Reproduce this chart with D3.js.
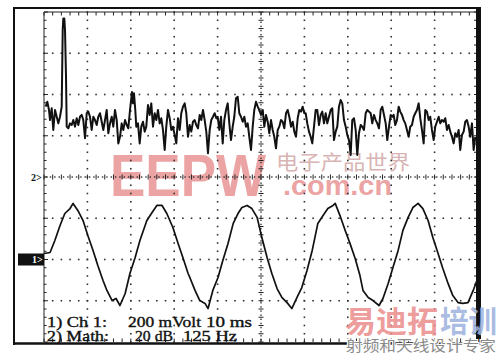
<!DOCTYPE html>
<html>
<head>
<meta charset="utf-8">
<script src="https://cdn.jsdelivr.net/npm/d3@7"></script>
<style>
body { margin: 0; background: #fff; }
svg { display: block; }
</style>
</head>
<body>
<svg id="scope" width="500" height="354"></svg>
<script>
// channel 1 trace: time (ms), level (mV)
var ch1Trace = [
    [0.0, 29], [1.4, 34], [2.5, 92], [3.7, 165], [4.8, 223], [6.0, 247], [6.7, 272], [7.8, 238],
    [9.0, 189], [10.1, 116], [11.3, 44], [12.4, -29], [13.6, -102], [14.5, -150], [15.7, -199],
    [16.6, -189], [17.5, -223], [18.7, -165], [19.8, -68], [21.0, 10], [22.1, 92], [23.7, 189],
    [24.9, 228], [26.0, 262], [27.2, 262], [28.3, 223], [29.7, 155], [30.9, 78], [32.0, 10],
    [33.2, -68], [33.6, -87], [34.8, -150], [35.9, -199], [37.1, -213], [37.8, -238], [38.9, -150],
    [40.1, -87], [41.2, -5], [42.4, 78], [43.6, 175], [44.7, 223], [45.6, 252], [46.8, 262],
    [47.9, 247], [49.1, 204], [50.2, 107], [51.4, 10], [52.5, -68], [53.7, -141], [54.8, -184],
    [56.0, -209], [57.1, -238], [58.3, -184], [59.4, -136], [60.6, -53], [61.8, 44], [63.1, 175],
    [64.3, 213], [65.4, 247], [66.6, 262], [67.1, 272], [68.2, 213], [69.4, 141], [70.5, 78],
    [71.7, 5], [72.8, -78], [73.5, -150], [74.7, -184], [75.8, -199], [77.2, -223], [78.1, -189],
    [79.3, -116], [80.4, -39], [81.6, 44], [82.7, 141], [83.9, 204], [85.0, 252], [86.2, 272],
    [87.3, 247], [88.5, 189], [89.6, 107], [90.8, 29], [91.9, -44], [93.1, -116], [94.2, -175],
    [95.4, -209], [96.5, -213], [97.7, -209], [98.9, -150], [100.0, -87]
];

// math trace (FFT): frequency (Hz), level (dB)
var mathTrace = [
    [4.9, 34.1], [9.5, 36.5], [14.4, 32.5], [17.3, 27.6], [22.2, 33.3], [26.8, 22.8], [31.7, 32.5],
    [36.6, 29.2], [41.2, 26.0], [46.1, 29.2], [51.0, 34.1], [53.9, 71.3], [55.6, 76.9], [58.5, 76.9],
    [60.5, 71.3], [63.4, 48.6], [65.4, 24.4], [70.0, 23.6], [74.9, 26.0], [79.8, 25.2], [84.4, 27.6],
    [89.3, 24.4], [94.2, 28.5], [98.8, 25.2], [103.7, 29.2], [108.6, 30.1], [113.2, 27.6], [118.1, 18.8],
    [123.0, 30.9], [127.6, 31.7], [132.5, 29.2], [137.4, 22.8], [142.0, 29.2], [146.9, 27.6], [151.8, 25.2],
    [156.4, 29.2], [161.3, 30.9], [166.2, 26.8], [170.8, 22.8], [175.7, 27.6], [180.6, 32.5], [185.2, 21.2],
    [190.1, 26.0], [195.0, 29.2], [199.6, 24.4], [204.5, 32.5], [209.4, 27.6], [214.0, 16.3], [218.9, 19.5],
    [223.8, 26.0], [228.4, 22.8], [233.3, 27.6], [238.2, 25.2], [242.8, 23.6], [247.7, 32.5], [253.4, 41.2],
    [256.3, 35.7], [259.2, 40.6], [262.9, 32.5], [265.8, 24.4], [270.7, 26.0], [275.6, 16.3], [280.2, 24.4],
    [285.1, 26.8], [290.0, 22.0], [294.6, 24.4], [299.5, 34.9], [304.4, 30.1], [309.0, 35.7], [313.9, 24.4],
    [318.8, 30.9], [323.4, 27.6], [328.3, 32.5], [333.2, 26.0], [337.8, 28.5], [342.7, 22.8], [347.6, 13.1],
    [352.2, 24.4], [357.1, 32.5], [362.0, 28.5], [366.6, 22.8], [371.5, 24.4], [376.4, 20.4], [381.0, 16.3],
    [385.9, 28.5], [390.8, 22.8], [395.4, 30.9], [400.3, 34.1], [405.2, 35.7], [409.8, 30.9], [414.7, 19.5],
    [419.6, 25.2], [424.2, 22.0], [429.1, 26.8], [434.0, 27.6], [438.6, 25.2], [443.5, 23.6], [448.4, 30.1],
    [453.0, 27.6], [457.9, 32.5], [462.8, 27.6], [467.4, 22.0], [472.3, 11.5], [477.2, 22.8], [481.8, 27.6],
    [486.7, 29.2], [491.6, 30.9], [496.2, 28.5], [500.3, 29.2], [504.9, 22.8], [509.8, 29.2], [514.7, 16.3],
    [519.3, 27.6], [524.2, 32.5], [529.1, 35.7], [533.7, 26.0], [538.6, 17.9], [543.5, 24.4], [548.1, 29.2],
    [553.0, 38.2], [557.9, 38.9], [562.5, 30.9], [567.4, 29.2], [572.3, 26.8], [576.9, 29.2], [581.8, 24.4],
    [586.7, 26.0], [591.3, 19.5], [596.2, 13.1], [601.1, 24.4], [605.7, 32.5], [610.6, 36.5], [615.5, 34.1],
    [620.1, 32.5], [625.0, 30.1], [629.9, 32.5], [634.5, 24.4], [639.4, 30.1], [644.3, 26.8], [648.9, 21.2],
    [653.8, 27.6], [658.7, 22.8], [663.3, 19.5], [668.2, 13.9], [673.1, 22.8], [677.7, 24.4], [682.6, 27.6],
    [687.5, 26.8], [692.1, 23.6], [697.0, 30.9], [701.9, 32.5], [706.5, 29.2], [711.4, 24.4], [716.3, 26.8],
    [720.9, 22.0], [725.8, 19.5], [730.7, 28.5], [735.3, 32.5], [740.2, 31.7], [745.1, 34.1], [749.7, 30.9],
    [753.7, 30.9], [758.3, 26.0], [763.2, 22.0], [768.1, 19.5], [772.7, 16.3], [777.6, 24.4], [782.5, 32.5],
    [787.1, 32.5], [792.0, 25.2], [796.9, 30.1], [801.5, 31.7], [806.4, 26.0], [811.3, 30.9], [815.9, 26.0],
    [820.8, 29.2], [825.7, 32.5], [830.3, 33.3], [835.2, 17.9], [840.1, 22.0], [844.7, 24.4], [849.6, 34.1],
    [854.5, 37.3], [859.1, 35.7], [864.0, 27.6], [868.9, 24.4], [873.5, 20.4], [878.4, 17.9], [883.3, 10.7],
    [887.9, 27.6], [892.8, 28.5], [897.7, 22.8], [902.3, 10.7], [907.2, 21.2], [912.1, 25.2], [916.7, 24.4],
    [921.6, 22.8], [926.5, 30.9], [931.1, 32.5], [936.0, 31.7], [940.9, 30.9], [945.5, 26.0], [950.4, 30.1],
    [955.3, 27.6], [959.9, 26.0], [964.8, 23.6], [969.7, 32.5], [974.3, 34.1], [979.2, 30.1], [984.1, 26.0],
    [988.7, 17.9], [993.6, 24.4], [998.5, 30.1], [1003.1, 29.2], [1007.1, 30.1], [1011.7, 25.2], [1016.6, 27.6],
    [1021.5, 34.1], [1026.1, 31.7], [1031.0, 30.1], [1035.9, 27.6], [1040.5, 26.0], [1045.4, 22.8], [1050.3, 19.5],
    [1054.9, 24.4], [1059.8, 25.2], [1064.7, 29.2], [1069.3, 30.9], [1074.2, 32.5], [1079.1, 35.7], [1083.7, 28.5],
    [1088.6, 22.8], [1093.5, 16.3], [1098.1, 32.5], [1103.0, 31.7], [1107.9, 27.6], [1112.5, 29.2], [1117.4, 22.8],
    [1122.3, 17.9], [1126.9, 24.4], [1131.8, 26.8], [1136.7, 29.2], [1141.3, 26.0], [1146.2, 27.6], [1151.1, 26.8],
    [1155.7, 28.5], [1160.6, 22.8], [1165.5, 25.2], [1170.1, 22.0], [1175.0, 19.5], [1179.9, 16.3], [1184.5, 21.2],
    [1189.4, 19.5], [1194.3, 22.8], [1198.9, 13.1], [1203.8, 20.4], [1208.7, 22.0], [1213.3, 26.8], [1218.2, 27.6],
    [1223.1, 24.4], [1227.7, 19.5], [1232.6, 26.0], [1237.5, 13.1], [1242.1, 19.5]
];

var ch1Label = ['1) Ch 1:', '200 mVolt', '10 ms'];
var mathLabel = ['2) Math:', '20 dB', '125 Hz'];
var markers = ['1>', '2>'];
var wmTop = ['EEPW', '电子产品世界', '.com.cn'];
var wmBottom = ['易迪拓', '培训', '射频和天线设计专家'];

// note: "top" is taken by window.top, so plot edges get their own names
var plotL = 44, plotR = 478, plotT = 12, plotB = 342;
var svg = d3.select('#scope');

// graticule: 10 x 8 divisions, 5 minor steps each
var gx = d3.scaleLinear().domain([0, 10]).range([plotL, plotR]);
var gy = d3.scaleLinear().domain([0, 8]).range([plotT, plotB]);

// scales for the two traces
var xTime = d3.scaleLinear().domain([0, 100]).range([plotL, plotR]);
var yVolt = d3.scaleLinear().domain([-400, 1200]).range([plotB, plotT]);
var xFreq = d3.scaleLinear().domain([0, 1250]).range([plotL, plotR]);
var yDb = d3.scaleLinear().domain([-80, 80]).range([plotB, plotT]);

// watermark behind everything
var wm = svg.append('g');
wm.append('text').text(wmTop[0])
    .attr('x', 110).attr('y', 196)
    .attr('textLength', 156).attr('lengthAdjust', 'spacingAndGlyphs')
    .style('font-family', 'Liberation Sans').style('font-weight', 'bold').style('font-size', '60px')
    .attr('fill', '#eba3a3');
wm.append('text').text(wmTop[1])
    .attr('x', 276).attr('y', 170)
    .attr('textLength', 134).attr('lengthAdjust', 'spacingAndGlyphs')
    .style('font-family', 'Noto Sans CJK SC').style('font-size', '20px')
    .attr('fill', '#d9b4b4');
wm.append('text').text(wmTop[2])
    .attr('x', 283).attr('y', 195)
    .attr('textLength', 109).attr('lengthAdjust', 'spacingAndGlyphs')
    .style('font-family', 'Liberation Sans').style('font-weight', 'bold').style('font-size', '28px')
    .attr('fill', '#eba3a3');

var minorX = d3.range(0, 50.5).map(function(k) { return k / 5; });
var minorY = d3.range(0, 40.5).map(function(k) { return k / 5; });
var halfX = d3.range(0, 100).map(function(k) { return k / 10 + 0.05; });
var halfY = d3.range(0, 80).map(function(k) { return k / 10 + 0.05; });

var grid = svg.append('g').attr('fill', '#333');

// dotted division lines
d3.range(1, 10).filter(function(i) { return i !== 5; }).forEach(function(i) {
    grid.selectAll(null).data(minorY).enter().append('rect')
        .attr('x', gx(i) - 0.8).attr('y', function(d) { return gy(d) - 0.8; })
        .attr('width', 1.6).attr('height', 1.6);
});
d3.range(1, 8).filter(function(j) { return j !== 4; }).forEach(function(j) {
    grid.selectAll(null).data(minorX).enter().append('rect')
        .attr('x', function(d) { return gx(d) - 0.8; }).attr('y', gy(j) - 0.8)
        .attr('width', 1.6).attr('height', 1.6);
});

var ticks = svg.append('g').attr('stroke', '#222').attr('stroke-width', 1);

// centre axes with ticks
ticks.selectAll(null).data(minorX).enter().append('line')
    .attr('x1', function(d) { return gx(d); }).attr('x2', function(d) { return gx(d); })
    .attr('y1', gy(4) - 2.5).attr('y2', gy(4) + 2.5);
ticks.selectAll(null).data(minorY).enter().append('line')
    .attr('y1', function(d) { return gy(d); }).attr('y2', function(d) { return gy(d); })
    .attr('x1', gx(5) - 2.5).attr('x2', gx(5) + 2.5);
grid.selectAll(null).data(halfX).enter().append('rect')
    .attr('x', function(d) { return gx(d) - 0.7; }).attr('y', gy(4) - 0.7)
    .attr('width', 1.4).attr('height', 1.4);
grid.selectAll(null).data(halfY).enter().append('rect')
    .attr('x', gx(5) - 0.7).attr('y', function(d) { return gy(d) - 0.7; })
    .attr('width', 1.4).attr('height', 1.4);

// edge ticks
ticks.selectAll(null).data(minorX).enter().append('line')
    .attr('x1', function(d) { return gx(d); }).attr('x2', function(d) { return gx(d); })
    .attr('y1', plotT).attr('y2', plotT + 3.5);
ticks.selectAll(null).data(minorX).enter().append('line')
    .attr('x1', function(d) { return gx(d); }).attr('x2', function(d) { return gx(d); })
    .attr('y1', plotB).attr('y2', plotB - 3.5);
ticks.selectAll(null).data(minorY).enter().append('line')
    .attr('y1', function(d) { return gy(d); }).attr('y2', function(d) { return gy(d); })
    .attr('x1', plotL).attr('x2', function(d) { return plotL + (d % 1 === 0 ? 4 : 2.5); });
ticks.selectAll(null).data(minorY).enter().append('line')
    .attr('y1', function(d) { return gy(d); }).attr('y2', function(d) { return gy(d); })
    .attr('x1', plotR - 4).attr('x2', plotR);

ticks.append('line').attr('x1', plotL).attr('x2', plotL).attr('y1', plotT).attr('y2', plotB);
ticks.append('line').attr('x1', plotL).attr('x2', plotR).attr('y1', plotT).attr('y2', plotT);

// traces
var ch1Line = d3.line()
    .x(function(d) { return xTime(d[0]); })
    .y(function(d) { return yVolt(d[1]); });
var mathLine = d3.line()
    .x(function(d) { return xFreq(d[0]); })
    .y(function(d) { return yDb(d[1]); });

svg.append('path').datum(mathTrace)
    .attr('d', mathLine)
    .attr('fill', 'none').attr('stroke', '#111').attr('stroke-width', 2)
    .attr('stroke-linejoin', 'round');
svg.append('path').datum(ch1Trace)
    .attr('d', ch1Line)
    .attr('fill', 'none').attr('stroke', '#111').attr('stroke-width', 1.7)
    .attr('stroke-linejoin', 'round');

// outer frame
var frame = svg.append('g').attr('stroke', '#111').attr('fill', 'none');
frame.append('line').attr('x1', 13).attr('x2', 481).attr('y1', 8).attr('y2', 8).attr('stroke-width', 2);
frame.append('line').attr('x1', 14).attr('x2', 14).attr('y1', 7).attr('y2', 345).attr('stroke-width', 2);
frame.append('line').attr('x1', 13).attr('x2', 483).attr('y1', 343.5).attr('y2', 343.5).attr('stroke-width', 2.5);
svg.append('rect').attr('x', 476).attr('y', 7).attr('width', 5).attr('height', 337).attr('fill', '#111');

// channel markers
svg.append('rect').attr('x', 18).attr('y', yVolt(0) - 6).attr('width', plotL - 18).attr('height', 12).attr('fill', '#111');
svg.append('text').text(markers[0])
    .attr('x', 32).attr('y', yVolt(0) + 3.5)
    .style('font-family', 'Liberation Serif').style('font-weight', 'bold').style('font-size', '10px')
    .attr('fill', '#fff');
svg.append('text').text(markers[1])
    .attr('x', 31).attr('y', yDb(0) + 3.5)
    .style('font-family', 'Liberation Serif').style('font-weight', 'bold').style('font-size', '10px')
    .attr('fill', '#111');

// readout
var readout = svg.append('g')
    .style('font-family', 'Liberation Serif').style('font-size', '14px')
    .attr('fill', '#111').attr('stroke', '#111').attr('stroke-width', 0.35);
var put = function(str, x, y, w) {
    readout.append('text').text(str)
        .attr('x', x).attr('y', y)
        .attr('textLength', w).attr('lengthAdjust', 'spacingAndGlyphs');
};
put(ch1Label[0], 47, 327, 60);
put(ch1Label[1], 128, 327, 73);
put(ch1Label[2], 206, 327, 46);
put(mathLabel[0], 47, 341, 62);
put(mathLabel[1], 135, 341, 38);
put(mathLabel[2], 183, 341, 54);

// bottom right watermark
var wm2 = svg.append('g').style('font-family', 'Noto Sans CJK SC');
wm2.append('text').text(wmBottom[0])
    .attr('x', 345).attr('y', 332)
    .attr('textLength', 93).attr('lengthAdjust', 'spacingAndGlyphs')
    .style('font-size', '30px').style('font-weight', 'bold')
    .attr('fill', '#ec8f8f').attr('fill-opacity', 0.9);
wm2.append('text').text(wmBottom[1])
    .attr('x', 440).attr('y', 332)
    .attr('textLength', 57).attr('lengthAdjust', 'spacingAndGlyphs')
    .style('font-size', '30px').style('font-weight', 'bold')
    .attr('fill', '#9fb3de').attr('fill-opacity', 0.9);
wm2.append('text').text(wmBottom[2])
    .attr('x', 346).attr('y', 351)
    .attr('textLength', 150).attr('lengthAdjust', 'spacingAndGlyphs')
    .style('font-size', '15px')
    .attr('fill', '#8a8a8a').attr('stroke', '#fff').attr('stroke-width', 2)
    .style('paint-order', 'stroke');
</script>
</body>
</html>
